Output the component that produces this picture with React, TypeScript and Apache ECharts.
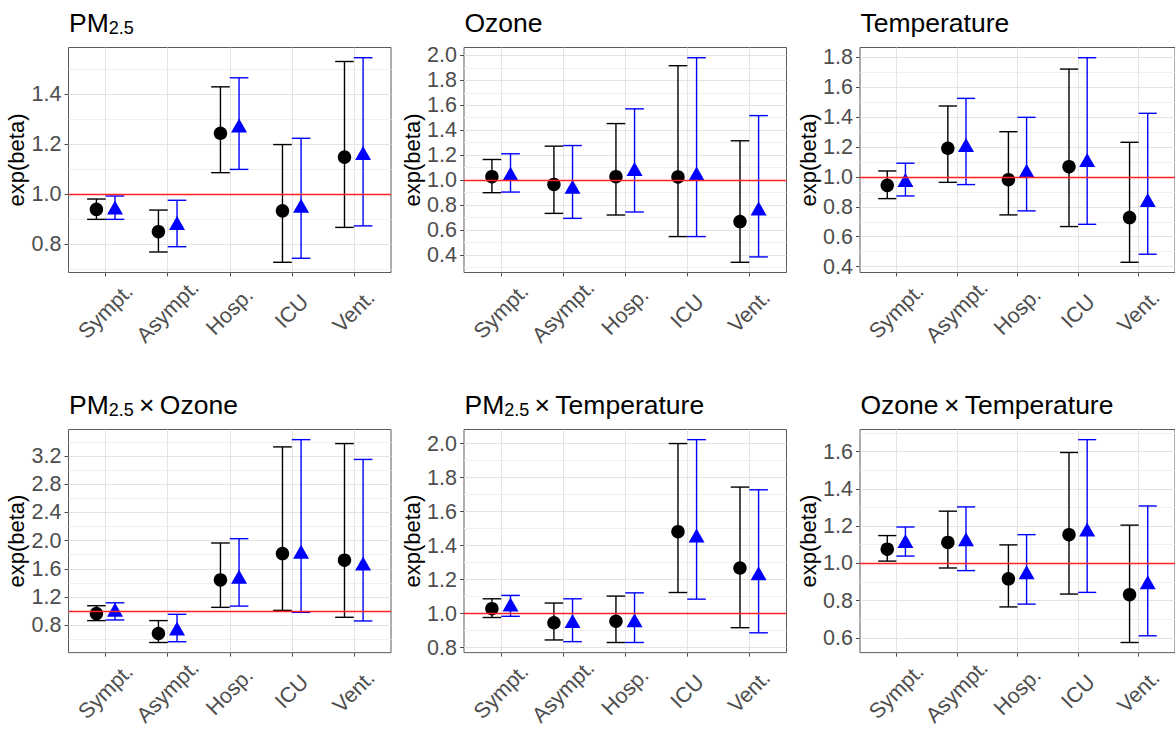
import React, { useEffect, useRef } from "react";
import * as echarts from "echarts";

// ---------- data ----------
const categories = ["Sympt.", "Asympt.", "Hosp.", "ICU", "Vent."];

// PM2.5
const pmBlackEst = [0.94, 0.851, 1.243, 0.934, 1.148];
const pmBlackLo = [0.9, 0.77, 1.086, 0.729, 0.868];
const pmBlackHi = [0.981, 0.937, 1.428, 1.198, 1.529];
const pmBlueEst = [0.947, 0.885, 1.274, 0.954, 1.164];
const pmBlueLo = [0.9, 0.791, 1.099, 0.745, 0.874];
const pmBlueHi = [0.993, 0.976, 1.464, 1.223, 1.544];
const pmTicks = [0.8, 1.0, 1.2, 1.4];

// Ozone
const ozBlackEst = [1.027, 0.965, 1.027, 1.025, 0.667];
const ozBlackLo = [0.899, 0.733, 0.72, 0.547, 0.341];
const ozBlackHi = [1.165, 1.272, 1.453, 1.917, 1.315];
const ozBlueEst = [1.05, 0.947, 1.088, 1.053, 0.773];
const ozBlueLo = [0.904, 0.693, 0.744, 0.547, 0.384];
const ozBlueHi = [1.211, 1.277, 1.571, 1.981, 1.517];
const ozTicks = [0.4, 0.6, 0.8, 1.0, 1.2, 1.4, 1.6, 1.8, 2.0];

// Temperature
const tBlackEst = [0.944, 1.192, 0.982, 1.069, 0.728];
const tBlackLo = [0.855, 0.964, 0.746, 0.668, 0.429];
const tBlackHi = [1.04, 1.475, 1.303, 1.722, 1.232];
const tBlueEst = [0.98, 1.214, 1.042, 1.114, 0.846];
const tBlueLo = [0.873, 0.949, 0.773, 0.683, 0.483];
const tBlueHi = [1.092, 1.526, 1.399, 1.798, 1.426];
const tTicks = [0.4, 0.6, 0.8, 1.0, 1.2, 1.4, 1.6, 1.8];

// PM2.5 x Ozone
const pmozBlackEst = [0.963, 0.681, 1.441, 1.816, 1.722];
const pmozBlackLo = [0.864, 0.553, 1.052, 1.009, 0.911];
const pmozBlackHi = [1.075, 0.864, 1.966, 3.33, 3.377];
const pmozBlueEst = [1.019, 0.752, 1.488, 1.84, 1.675];
const pmozBlueLo = [0.873, 0.564, 1.07, 0.981, 0.859];
const pmozBlueHi = [1.117, 0.953, 2.027, 3.433, 3.152];
const pmozTicks = [0.8, 1.2, 1.6, 2.0, 2.4, 2.8, 3.2];

// PM2.5 x Temperature
const pmtBlackEst = [1.029, 0.946, 0.955, 1.482, 1.268];
const pmtBlackLo = [0.977, 0.845, 0.83, 1.124, 0.917];
const pmtBlackHi = [1.087, 1.062, 1.103, 2.0, 1.744];
const pmtBlueEst = [1.054, 0.957, 0.961, 1.46, 1.237];
const pmtBlueLo = [0.984, 0.835, 0.83, 1.085, 0.887];
const pmtBlueHi = [1.107, 1.087, 1.122, 2.023, 1.728];
const pmtTicks = [0.8, 1.0, 1.2, 1.4, 1.6, 1.8, 2.0];

// Ozone x Temperature
const otBlackEst = [1.076, 1.112, 0.917, 1.154, 0.832];
const otBlackLo = [1.012, 0.975, 0.766, 0.835, 0.575];
const otBlackHi = [1.149, 1.28, 1.099, 1.595, 1.205];
const otBlueEst = [1.12, 1.129, 0.952, 1.182, 0.899];
const otBlueLo = [1.039, 0.961, 0.781, 0.844, 0.611];
const otBlueHi = [1.195, 1.303, 1.154, 1.664, 1.308];
const otTicks = [0.6, 0.8, 1.0, 1.2, 1.4, 1.6];

const titles = [
  ["PM", "2.5", ""],
  ["Ozone", "", ""],
  ["Temperature", "", ""],
  ["PM", "2.5", "\u2009\u00d7\u2009Ozone"],
  ["PM", "2.5", "\u2009\u00d7\u2009Temperature"],
  ["Ozone\u2009\u00d7\u2009Temperature", "", ""],
];
const yName = "exp(beta)";
const refLine = 1;

// ---------- layout / style ----------
const colLeft = [68.5, 464, 860];
const rowTop = [47.5, 429.5];
const panelW = 322.5;
const panelH = 225;
const dodge = 0.15;
const capHalf = 0.15;
const FONT = "'Liberation Sans', Arial, Helvetica, sans-serif";
const BLACK = "#000000";
const BLUE = "#0000ff";

type Group = { est: number[]; lo: number[]; hi: number[] };
type Panel = { ticks: number[]; black: Group; blue: Group };

const panels: Panel[] = [
  { ticks: pmTicks, black: { est: pmBlackEst, lo: pmBlackLo, hi: pmBlackHi }, blue: { est: pmBlueEst, lo: pmBlueLo, hi: pmBlueHi } },
  { ticks: ozTicks, black: { est: ozBlackEst, lo: ozBlackLo, hi: ozBlackHi }, blue: { est: ozBlueEst, lo: ozBlueLo, hi: ozBlueHi } },
  { ticks: tTicks, black: { est: tBlackEst, lo: tBlackLo, hi: tBlackHi }, blue: { est: tBlueEst, lo: tBlueLo, hi: tBlueHi } },
  { ticks: pmozTicks, black: { est: pmozBlackEst, lo: pmozBlackLo, hi: pmozBlackHi }, blue: { est: pmozBlueEst, lo: pmozBlueLo, hi: pmozBlueHi } },
  { ticks: pmtTicks, black: { est: pmtBlackEst, lo: pmtBlackLo, hi: pmtBlackHi }, blue: { est: pmtBlueEst, lo: pmtBlueLo, hi: pmtBlueHi } },
  { ticks: otTicks, black: { est: otBlackEst, lo: otBlackLo, hi: otBlackHi }, blue: { est: otBlueEst, lo: otBlueLo, hi: otBlueHi } },
];

function yRange(p: Panel) {
  const all = [...p.black.lo, ...p.black.hi, ...p.blue.lo, ...p.blue.hi, refLine];
  const mn = Math.min(...all);
  const mx = Math.max(...all);
  const pad = (mx - mn) * 0.05;
  return [mn - pad, mx + pad];
}

function minorTicks(ticks: number[], lo: number, hi: number) {
  const step = ticks[1] - ticks[0];
  const out: number[] = [];
  const first = ticks[0] - step / 2;
  for (let v = first; v <= ticks[ticks.length - 1] + step / 2 + 1e-9; v += step) {
    const r = Math.round(v * 100) / 100;
    if (r >= lo && r <= hi) out.push(r);
  }
  return out;
}

function errorbarSeries(i: number, g: Group, offset: number, color: string) {
  return {
    type: "custom",
    xAxisIndex: i,
    yAxisIndex: 2 * i,
    z: 3,
    silent: true,
    data: categories.map((_, k) => [k + 1 + offset, g.lo[k], g.hi[k]]),
    encode: { x: 0, y: [1, 2] },
    renderItem: (_params: any, api: any) => {
      const x = api.value(0) as number;
      const lo = api.value(1) as number;
      const hi = api.value(2) as number;
      const t = api.coord([x, hi]);
      const b = api.coord([x, lo]);
      const l = api.coord([x - capHalf, hi])[0];
      const r = api.coord([x + capHalf, hi])[0];
      const style = { stroke: color, lineWidth: 1.4, fill: "none" };
      return {
        type: "group",
        children: [
          { type: "line", shape: { x1: t[0], y1: t[1], x2: b[0], y2: b[1] }, style },
          { type: "line", shape: { x1: l, y1: t[1], x2: r, y2: t[1] }, style },
          { type: "line", shape: { x1: l, y1: b[1], x2: r, y2: b[1] }, style },
        ],
      };
    },
  };
}

function pointSeries(i: number, g: Group, offset: number, color: string, symbol: string, size: any) {
  return {
    type: "scatter",
    xAxisIndex: i,
    yAxisIndex: 2 * i,
    z: 4,
    silent: true,
    symbol,
    symbolSize: size,
    itemStyle: { color, opacity: 1 },
    data: categories.map((_, k) => [k + 1 + offset, g.est[k]]),
  };
}

function buildOption() {
  const grid: any[] = [];
  const xAxis: any[] = [];
  const yAxis: any[] = [];
  const series: any[] = [];
  const title: any[] = [];
  const catValues = categories.map((_, k) => k + 1);

  panels.forEach((p, i) => {
    const left = colLeft[i % 3];
    const top = rowTop[Math.floor(i / 3)];
    const [ymin, ymax] = yRange(p);
    grid.push({
      left,
      top,
      width: panelW,
      height: panelH,
      show: true,
      borderColor: "#5a5a5a",
      borderWidth: 1,
      backgroundColor: "transparent",
    });
    xAxis.push({
      gridIndex: i,
      type: "value",
      min: 0.4,
      max: 5.6,
      axisLine: { show: false, onZero: false },
      axisTick: { show: true, length: 4, customValues: catValues, lineStyle: { color: "#4d4d4d", width: 1 } },
      axisLabel: {
        customValues: catValues,
        formatter: (v: number) => categories[Math.round(v) - 1] ?? "",
        rotate: 45,
        align: "center",
        verticalAlign: "middle",
        margin: 39,
        fontSize: 21.5,
        color: "#4d4d4d",
        fontFamily: FONT,
      },
      splitLine: { show: true, lineStyle: { color: "#e4e4e4", width: 1 } },
    });
    yAxis.push({
      gridIndex: i,
      type: "value",
      position: "left",
      min: ymin,
      max: ymax,
      axisLine: { show: false, onZero: false },
      axisTick: { show: true, length: 4, customValues: p.ticks, lineStyle: { color: "#4d4d4d", width: 1 } },
      axisLabel: {
        customValues: p.ticks,
        formatter: (v: number) => v.toFixed(1),
        margin: 7,
        fontSize: 21.5,
        color: "#4d4d4d",
        fontFamily: FONT,
      },
      splitLine: { show: true, lineStyle: { color: "#e4e4e4", width: 1 } },
      name: yName,
      nameLocation: "middle",
      nameGap: 36,
      nameTextStyle: { fontSize: 22, color: "#000", fontFamily: FONT, fontWeight: "normal" },
    });
    const minors = minorTicks(p.ticks, ymin, ymax);
    yAxis.push({
      gridIndex: i,
      type: "value",
      position: "left",
      min: ymin,
      max: ymax,
      axisLine: { show: false },
      axisTick: { show: false, customValues: minors },
      axisLabel: { show: false, customValues: minors },
      splitLine: { show: true, lineStyle: { color: "#efefef", width: 1 } },
    });

    // reference line
    series.push({
      type: "line",
      xAxisIndex: i,
      yAxisIndex: 2 * i,
      z: 2,
      data: [],
      silent: true,
      markLine: {
        silent: true,
        symbol: ["none", "none"],
        label: { show: false },
        lineStyle: { color: "#ff2020", width: 1.4, type: "solid" },
        data: [{ yAxis: refLine }],
      },
    });
    series.push(errorbarSeries(i, p.black, -dodge, BLACK));
    series.push(errorbarSeries(i, p.blue, dodge, BLUE));
    series.push(pointSeries(i, p.black, -dodge, BLACK, "circle", 13.5));
    series.push(pointSeries(i, p.blue, dodge, BLUE, "triangle", [16, 14]));

    const [main, sub, rest] = titles[i];
    let text = "{m|" + main + "}";
    if (sub) text += "{s|" + sub + "}";
    if (rest) text += "{m|" + rest + "}";
    title.push({
      left: left + 0.5,
      top: top - 41,
      padding: 0,
      text,
      textStyle: {
        fontFamily: FONT,
        fontWeight: "normal",
        rich: {
          m: { fontSize: 26.5, fontWeight: "normal", lineHeight: 30, verticalAlign: "bottom", color: "#000", fontFamily: FONT },
          s: { fontSize: 18, fontWeight: "normal", lineHeight: 17, verticalAlign: "bottom", color: "#000", fontFamily: FONT },
        },
      },
    });
  });

  return {
    animation: false,
    backgroundColor: "#ffffff",
    textStyle: { fontFamily: FONT },
    title,
    grid,
    xAxis,
    yAxis,
    series,
  };
}

export default function App() {
  const ref = useRef<HTMLDivElement>(null);
  useEffect(() => {
    if (!ref.current) return;
    const chart = echarts.init(ref.current, null, { renderer: "svg" });
    chart.setOption(buildOption() as any);
    return () => chart.dispose();
  }, []);
  return (
    <div
      ref={ref}
      style={{ position: "fixed", left: 0, top: 0, width: 1175, height: 729, background: "#fff" }}
    />
  );
}
